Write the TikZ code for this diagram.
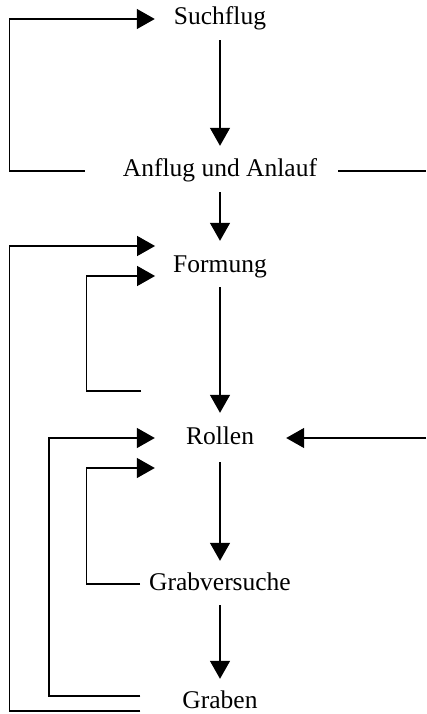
\documentclass[tikz,border=0pt]{standalone}
\usepackage{fontspec}
\setmainfont{Liberation Serif}
\usetikzlibrary{arrows.meta}
\tikzset{
  stage/.style={anchor=base, inner sep=0pt, text height=17pt, text depth=5pt,
    font=\fontsize{25.5pt}{30pt}\selectfont},
  flow/.style={line width=1.4pt, -{Triangle[length=18pt,width=20pt]},
    shorten <=10pt, shorten >=14pt},
  feedback/.style={line width=1.4pt, -{Triangle[length=18pt,width=20pt]}},
  freeline/.style={line width=1.4pt},
}

\begin{document}
\begin{tikzpicture}[x=1pt, y=-1pt]
\useasboundingbox (0,0) rectangle (426,714);
% stages, top to bottom (y counts downwards)
\node[stage] (such)  at (220,25)  {Suchflug};
\node[stage] (anfl)  at (220,177) {Anflug und Anlauf};
\node[stage] (form)  at (220,272) {Formung};
\node[stage] (roll)  at (220,444) {Rollen};
\node[stage] (grabv) at (220,590) {Grabversuche};
\node[stage, text depth=0pt] (grab) at (220,708) {Graben};
% rails on the left, loose ends
\coordinate (railA) at (9.5,0);
\coordinate (railB) at (49,0);
\coordinate (railC) at (86.5,0);
\coordinate (edge)  at (426,0);
\coordinate (formrep) at (141,391);
% main sequence
\draw[flow] (such) -- (anfl);
\draw[flow] (anfl) -- (form);
\draw[flow] (form) -- (roll);
\draw[flow, shorten <=13pt, shorten >=12pt] (roll) -- (grabv);
\draw[flow, shorten >=12pt] (grabv) -- (grab);
% going back
\draw[feedback, shorten <=38pt, shorten >=19pt] (anfl.west) -| (such.west -| railA) -- (such.west);
\draw[feedback, shorten <=42pt, shorten >=18pt] ([yshift=-11.5pt]grab.west) -| ([yshift=20pt]form.west -| railA) -- ([yshift=20pt]form.west);
\draw[feedback, shorten <=42pt, shorten >=31pt] ([yshift=3.5pt]grab.west) -| (roll.west -| railB) -- (roll.west);
\draw[feedback, shorten >=18pt] (formrep) -| ([yshift=-10pt]form.west -| railC) -- ([yshift=-10pt]form.west);
\draw[feedback, shorten <=9pt, shorten >=31pt] (grabv.west) -| ([yshift=-30pt]roll.west -| railC) -- ([yshift=-30pt]roll.west);
% right side
\draw[freeline, shorten <=21pt] (anfl.east) -- (anfl.east -| edge);
\draw[feedback, shorten >=32pt] (roll.east -| edge) -- (roll.east);
\end{tikzpicture}
\end{document}
